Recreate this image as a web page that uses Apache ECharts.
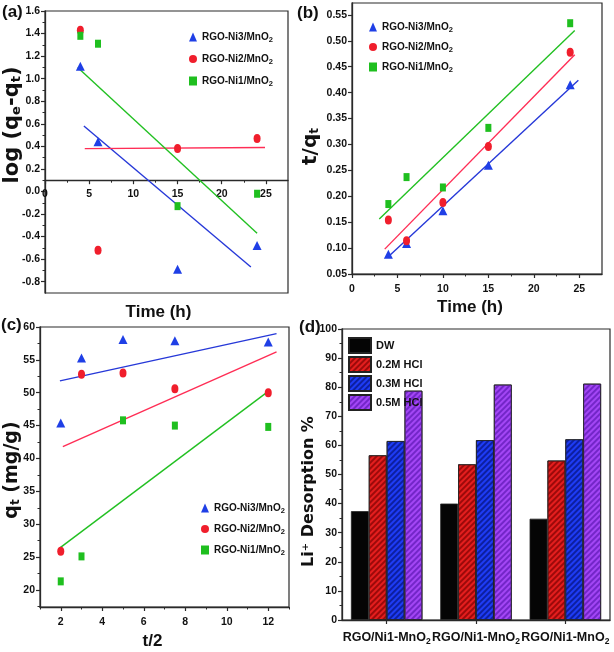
<!DOCTYPE html>
<html><head><meta charset="utf-8">
<script src="https://cdn.jsdelivr.net/npm/echarts@6/dist/echarts.min.js"></script>
<style>html,body{margin:0;padding:0;background:#fff}#c{width:614px;height:652px}</style>
</head><body><div id="c"></div>
<script>
// ---------- DATA ----------
const seriesNames = ['RGO-Ni3/MnO2', 'RGO-Ni2/MnO2', 'RGO-Ni1/MnO2'];

// (a) pseudo-first-order
const timeA = [4, 6, 15, 24];
const logQNi3 = [1.11, 0.44, -0.69, -0.48];
const logQNi2 = [1.43, -0.52, 0.38, 0.47];
const logQNi1 = [1.38, 1.31, -0.13, -0.02];
const fitANi3 = [[4.4, 0.58], [23.3, -0.67]];
const fitANi2 = [[4.5, 0.38], [24.9, 0.39]];
const fitANi1 = [[3.7, 1.10], [24.0, -0.37]];
const xTicksA = [0, 5, 10, 15, 20, 25];
const xMinorA = [2.5, 7.5, 12.5, 17.5, 22.5];
const yTicksA = [-0.8, -0.6, -0.4, -0.2, 0.0, 0.2, 0.4, 0.6, 0.8, 1.0, 1.2, 1.4, 1.6];
const yMinorA = [-0.7, -0.5, -0.3, -0.1, 0.1, 0.3, 0.5, 0.7, 0.9, 1.1, 1.3, 1.5];

// (b) pseudo-second-order
const timeB = [4, 6, 10, 15, 24];
const tqNi3 = [0.088, 0.109, 0.172, 0.260, 0.415];
const tqNi2 = [0.154, 0.114, 0.188, 0.296, 0.478];
const tqNi1 = [0.185, 0.237, 0.217, 0.332, 0.534];
const fitBNi3 = [[3.9, 0.082], [24.9, 0.424]];
const fitBNi2 = [[3.6, 0.098], [24.5, 0.473]];
const fitBNi1 = [[3.0, 0.156], [24.5, 0.520]];
const xTicksB = [0, 5, 10, 15, 20, 25];
const xMinorB = [2.5, 7.5, 12.5, 17.5, 22.5];
const yTicksB = [0.05, 0.10, 0.15, 0.20, 0.25, 0.30, 0.35, 0.40, 0.45, 0.50, 0.55];

// (c) intraparticle diffusion
const tHalf = [2, 3, 5, 7.5, 12];
const qtNi3 = [45.4, 55.3, 58.1, 57.9, 57.7];
const qtNi2 = [25.9, 52.8, 53.0, 50.6, 50.0];
const qtNi1 = [21.3, 25.1, 45.8, 45.0, 44.8];
const fitCNi3 = [[1.96, 51.8], [12.4, 59.0]];
const fitCNi2 = [[2.1, 41.8], [12.4, 56.2]];
const fitCNi1 = [[1.96, 26.4], [12.0, 50.2]];
const xTicksC = [2, 4, 6, 8, 10, 12];
const xMinorC = [1, 3, 5, 7, 9, 11, 13];
const yTicksC = [20, 25, 30, 35, 40, 45, 50, 55, 60];
const yMinorC = [17.5, 22.5, 27.5, 32.5, 37.5, 42.5, 47.5, 52.5, 57.5];

// (d) desorption
const samples = ['RGO/Ni1-MnO2', 'RGO/Ni1-MnO2', 'RGO/Ni1-MnO2'];
const eluents = ['DW', '0.2M HCl', '0.3M HCl', '0.5M HCl'];
const desDW = [37.4, 40.0, 34.8];
const des02 = [56.6, 53.5, 54.8];
const des03 = [61.5, 61.8, 62.1];
const des05 = [78.8, 80.9, 81.2];

// ---------- STYLE ----------
const NARROW = "'Liberation Sans Narrow','Arial Narrow','Liberation Sans',Arial,sans-serif";
const WIDE = "'DejaVu Sans','Liberation Sans',sans-serif";
const AX = '#2a2a2a';
const symColors = ['#1f3fe6', '#f01e2c', '#1fbf1f'];
const lineColors = ['#2638d8', '#ff2d55', '#22c022'];
const symbols = ['triangle', 'circle', 'rect'];
const symSizes = [[9, 9], [7, 9], [6, 8]];
const barColors = ['#050505', '#e41e1e', '#1e3cf5', '#a346f5'];
const hatchColors = [null, '#9c0a0a', '#0d1fa0', '#7326c8'];

const lab = {fontFamily: NARROW, fontWeight: 'bold', fontSize: 10.5, color: '#111'};
const subRich = (fs, lh) => ({s: {fontFamily: NARROW, fontWeight: 'bold', fontSize: fs, color: '#111', verticalAlign: 'bottom', lineHeight: lh}});

const G = [
  {left: 45, top: 11, width: 243, height: 282, yMin: -0.9, yMax: 1.6},
  {left: 352, top: 3, width: 250, height: 271},
  {left: 40, top: 327, width: 249, height: 280},
  {left: 342, top: 329, width: 268, height: 291}
];
// x axis of (a) crosses the y axis at 0.1
const crossA = 0.1;
const offsetA = -((crossA - G[0].yMin) / (G[0].yMax - G[0].yMin)) * G[0].height;

const zip = (xs, ys) => xs.map((x, i) => [x, ys[i]]);

function mainAxis(gi, min, max, vals, fmt, extra) {
  return Object.assign({
    type: 'value', gridIndex: gi, min: min, max: max, splitLine: {show: false}, nameMoveOverlap: false,
    axisLine: {show: true, onZero: false, lineStyle: {color: AX, width: 1.3}},
    axisTick: {show: true, customValues: vals, length: 4, lineStyle: {color: AX, width: 1.2}},
    axisLabel: Object.assign({show: true, customValues: vals, formatter: fmt, margin: 5}, lab)
  }, extra || {});
}
function minorAxis(gi, min, max, vals, extra) {
  return Object.assign({
    type: 'value', gridIndex: gi, min: min, max: max, splitLine: {show: false},
    axisLine: {show: false, onZero: false},
    axisTick: {show: true, customValues: vals, length: 2.5, lineStyle: {color: AX, width: 1}},
    axisLabel: {show: false}
  }, extra || {});
}
const xName = (text, gap, padRight) => ({
  name: text, nameLocation: 'middle', nameGap: gap, nameMoveOverlap: false,
  nameTextStyle: {fontFamily: NARROW, fontWeight: 'bold', fontSize: 17, color: '#111', padding: [0, padRight || 0, 0, 0]}
});
const yName = (text, gap, fs, shiftUp) => ({
  name: text, nameLocation: 'middle', nameGap: gap, nameMoveOverlap: false,
  nameTextStyle: {fontFamily: WIDE, fontWeight: 'bold', fontSize: fs, color: '#111', lineHeight: fs,
    padding: shiftUp > 0 ? [0, 0, 0, 2 * shiftUp] : [0, -2 * shiftUp, 0, 0],
    rich: {s: {fontFamily: WIDE, fontWeight: 'bold', fontSize: Math.round(fs * 0.62), color: '#111', verticalAlign: 'bottom', lineHeight: fs}}}
});

const xAxes = [
  // 0-2 : (a)
  mainAxis(0, 0, 27.5, xTicksA, v => String(v), {position: 'bottom', offset: offsetA, axisLabel: Object.assign({customValues: xTicksA, margin: 8}, lab)}),
  minorAxis(0, 0, 27.5, xMinorA, {position: 'bottom', offset: offsetA}),
  Object.assign({type: 'value', gridIndex: 0, min: 0, max: 27.5, position: 'bottom', axisLine: {show: false, onZero: false}, axisTick: {show: false}, axisLabel: {show: false}, splitLine: {show: false}}, xName('Time (h)', 11, 16)),
  // 3-4 : (b)
  mainAxis(1, 0, 27.5, xTicksB, v => String(v), Object.assign({position: 'bottom', axisLabel: Object.assign({customValues: xTicksB, margin: 10}, lab)}, xName('Time (h)', 25, 14))),
  minorAxis(1, 0, 27.5, xMinorB, {position: 'bottom'}),
  // 5-6 : (c)
  mainAxis(2, 1, 13, xTicksC, v => String(v), Object.assign({position: 'bottom', axisLabel: Object.assign({customValues: xTicksC, margin: 10}, lab)}, xName('t/2', 26, 24))),
  minorAxis(2, 1, 13, xMinorC, {position: 'bottom'}),
  // 7 : (d)
  {
    type: 'category', gridIndex: 3, data: samples, position: 'bottom',
    axisLine: {show: true, onZero: false, lineStyle: {color: AX, width: 1.3}},
    axisTick: {show: true, alignWithLabel: true, length: 4, lineStyle: {color: AX, width: 1.2}},
    axisLabel: {interval: 0, hideOverlap: false, margin: 9, fontFamily: NARROW, fontWeight: 'bold', fontSize: 12.5, color: '#111',
      formatter: v => v.replace(/2$/, '{s|2}'), rich: subRich(8.5, 17)},
    splitLine: {show: false}
  }
];

const yAxes = [
  // 0-1 : (a)
  mainAxis(0, G[0].yMin, G[0].yMax, yTicksA, v => v.toFixed(1), Object.assign({position: 'left'}, yName('log (q{s|e}-q{s|t})', 22, 21, 27))),
  minorAxis(0, G[0].yMin, G[0].yMax, yMinorA, {position: 'left'}),
  // 2 : (b)
  mainAxis(1, 0.05, 0.573, yTicksB, v => v.toFixed(2), Object.assign({position: 'left'}, yName('t/q{s|t}', 31, 20, -8))),
  // 3-4 : (c)
  mainAxis(2, 17.4, 60, yTicksC, v => String(v), Object.assign({position: 'left'}, yName('q{s|t} (mg/g)', 18, 19, -3))),
  minorAxis(2, 17.4, 60, yMinorC, {position: 'left'}),
  // 5 : (d)
  Object.assign({
    type: 'value', gridIndex: 3, min: 0, max: 100, interval: 10, position: 'left', splitLine: {show: false},
    axisLine: {show: true, onZero: false, lineStyle: {color: AX, width: 1.3}},
    axisTick: {show: true, length: 4, lineStyle: {color: AX, width: 1.2}},
    minorTick: {show: true, splitNumber: 2, length: 2.5, lineStyle: {color: AX, width: 1}},
    axisLabel: Object.assign({margin: 5}, lab)
  }, yName('Li\u207A Desorption %', 25, 16, -17))
];

const series = [];
function addPanel(xi, yi, xs, ysList, fits) {
  fits.forEach((f, k) => series.push({
    type: 'line', name: 'fit-' + xi + '-' + k, xAxisIndex: xi, yAxisIndex: yi, data: f,
    showSymbol: false, silent: true, z: 2, lineStyle: {color: lineColors[k], width: 1.4}
  }));
  ysList.forEach((ys, k) => series.push({
    type: 'scatter', name: seriesNames[k], xAxisIndex: xi, yAxisIndex: yi, data: zip(xs, ys),
    symbol: symbols[k], symbolSize: symSizes[k], z: 3, itemStyle: {color: symColors[k], opacity: 1}
  }));
}
addPanel(0, 0, timeA, [logQNi3, logQNi2, logQNi1], [fitANi3, fitANi2, fitANi1]);
addPanel(3, 2, timeB, [tqNi3, tqNi2, tqNi1], [fitBNi3, fitBNi2, fitBNi1]);
addPanel(5, 3, tHalf, [qtNi3, qtNi2, qtNi1], [fitCNi3, fitCNi2, fitCNi1]);

[desDW, des02, des03, des05].forEach((vals, k) => {
  const st = {color: barColors[k], borderColor: '#222', borderWidth: 0.8};
  if (hatchColors[k]) st.decal = {symbol: 'rect', symbolSize: 1, color: hatchColors[k], dashArrayX: [1, 0], dashArrayY: [1.2, 2], rotation: -Math.PI / 4};
  series.push({type: 'bar', name: eluents[k], xAxisIndex: 7, yAxisIndex: 5, data: vals,
    barGap: '0%', barCategoryGap: '20%', itemStyle: st, emphasis: {disabled: true}});
});

const legText = {fontFamily: NARROW, fontWeight: 'bold', fontSize: 10, color: '#111', lineHeight: 14, rich: subRich(7.5, 14)};
const scLegend = (left, top, gap) => ({
  data: seriesNames, orient: 'vertical', left: left, top: top, itemGap: gap, itemWidth: 8, itemHeight: 9,
  formatter: n => n.replace(/2$/, '{s|2}'), textStyle: legText, selectedMode: false
});

const option = {
  animation: false,
  backgroundColor: '#fff',
  title: [
    {text: '(a)', left: 2, top: 4},
    {text: '(b)', left: 297, top: 5},
    {text: '(c)', left: 1, top: 317},
    {text: '(d)', left: 299, top: 319}
  ].map(t => Object.assign(t, {padding: 0, textStyle: {fontFamily: "'Liberation Sans',Arial,sans-serif", fontWeight: 'bold', fontSize: 17, color: '#111'}})),
  grid: G.map(g => ({left: g.left, top: g.top, width: g.width, height: g.height, show: true, borderColor: AX, borderWidth: 1.2, backgroundColor: 'transparent', containLabel: false, outerBoundsMode: 'none'})),
  legend: [
    scLegend(184, 25, 8),
    scLegend(364, 15, 6),
    scLegend(196, 496, 7),
    {data: eluents, orient: 'vertical', left: 343, top: 332, itemGap: 2, itemWidth: 22, itemHeight: 15, icon: 'rect', selectedMode: false,
      textStyle: {fontFamily: NARROW, fontWeight: 'bold', fontSize: 11, color: '#111', lineHeight: 15}}
  ],
  xAxis: xAxes,
  yAxis: yAxes,
  series: series
};
const chart = echarts.init(document.getElementById('c'), null, {renderer: 'canvas'});
chart.setOption(option);
</script></body></html>
